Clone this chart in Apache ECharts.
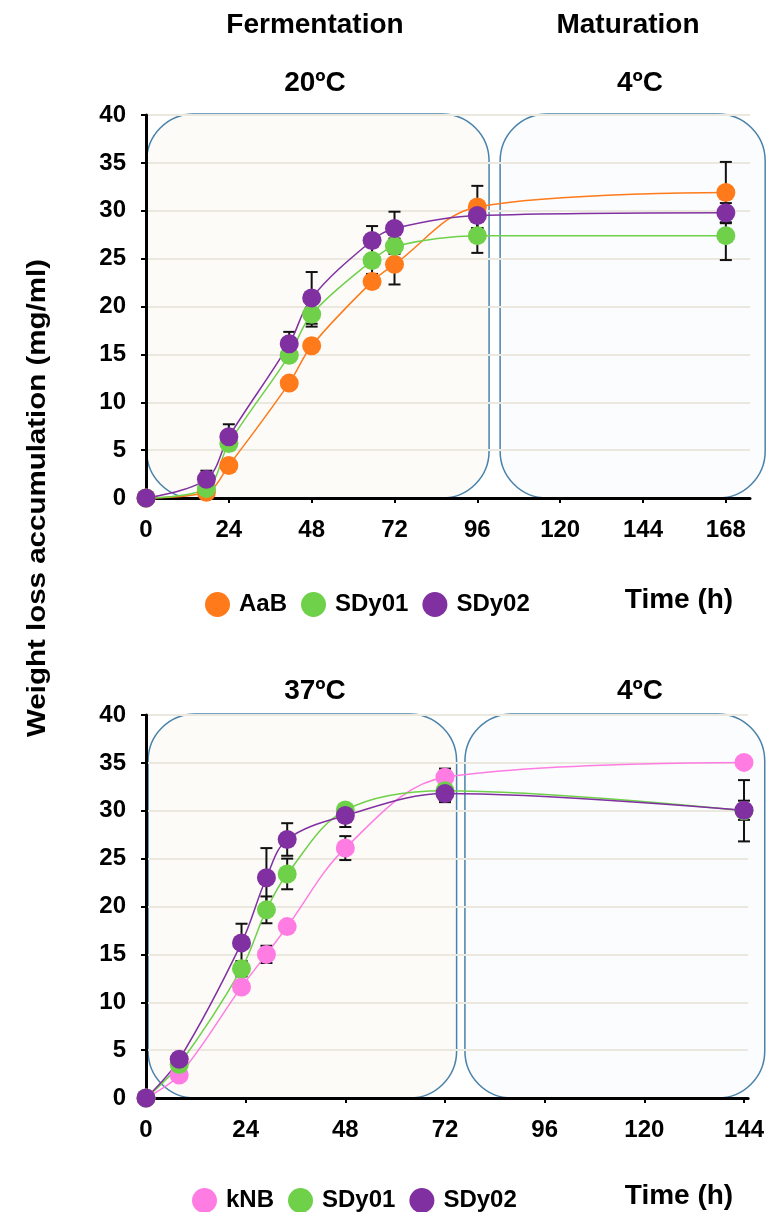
<!DOCTYPE html>
<html><head><meta charset="utf-8">
<script src="https://cdn.jsdelivr.net/npm/echarts@6/dist/echarts.min.js"></script>
<style>html,body{margin:0;padding:0;background:#fff}#c{width:767px;height:1212px}</style>
</head><body><div id="c"></div>
<script>
// ---------- data: top panel (20 ºC fermentation, 4 ºC maturation) ----------
const timesTop = [0, 17.5, 24, 41.5, 48, 65.5, 72, 96, 168];
const aabTop   = [0, 0.6, 3.4, 12.0, 15.9, 22.6, 24.4, 30.4, 31.9];
const sdy01Top = [0, 1.0, 5.7, 14.9, 19.2, 24.8, 26.3, 27.4, 27.4];
const sdy02Top = [0, 1.95, 6.4, 16.1, 20.9, 26.9, 28.15, 29.5, 29.8];
const aabTopErr   = [0, 0.3, 0.5, 0.5, 0.6, 0.6, 2.1, 2.2, 3.2];
const sdy01TopErr = [0, 0.3, 0.7, 0.5, 1.3, 1.4, 0.8, 1.8, 2.55];
const sdy02TopErr = [0, 0.9, 1.3, 1.25, 2.7, 1.5, 1.75, 1.3, 1.0];
const xTicksTop = [0, 24, 48, 72, 96, 120, 144, 168];

// ---------- data: bottom panel (37 ºC fermentation, 4 ºC maturation) ----------
const timesBottom = [0, 8, 23, 29, 34, 48, 72, 144];
const knbBottom   = [0, 2.4, 11.6, 15.0, 17.9, 26.1, 33.5, 35.05];
const sdy01Bottom = [0, 3.5, 13.5, 19.65, 23.4, 30.07, 32.1, 30.0];
const sdy02Bottom = [0, 4.04, 16.2, 23.0, 27.0, 29.5, 31.8, 30.05];
const knbBottomErr   = [0, 0.3, 0.5, 0.9, 0.5, 1.25, 0.9, 0.5];
const sdy01BottomErr = [0, 0.3, 0.8, 1.4, 1.6, 0.6, 0.5, 3.2];
const sdy02BottomErr = [0, 0.3, 2.0, 3.1, 1.7, 1.2, 0.9, 1.0];
const xTicksBottom = [0, 24, 48, 72, 96, 120, 144];

// phase boxes (hours)
const phasesTop = [[0.2, 99.4], [102.6, 179.4]];
const phasesBottom = [[0.5, 74.8], [76.8, 149]];

const C = {orange:'#ff7a1a', green:'#6fd04a', purple:'#8030a0', pink:'#ff7de3'};
const FONT = '"Liberation Sans", Arial, sans-serif';

function pairs(t, v){ return t.map((x,i)=>[x, v[i]]); }
function errs(t, v, e){ return t.map((x,i)=>[x, v[i]-e[i], v[i]+e[i]]).filter(d=>d[2]>d[1]); }

function boxSeries(gi, phases){
  return {
    type:'custom', xAxisIndex:gi, yAxisIndex:gi, z:-1, silent:true, clip:false,
    data: phases.map((p,i)=>[p[0], p[1], i]),
    encode:{x:[0,1]},
    renderItem:(params, api)=>{
      const a = api.coord([api.value(0), 40.1]);
      const b = api.coord([api.value(1), 0]);
      return {type:'rect', shape:{x:a[0], y:a[1], width:b[0]-a[0], height:b[1]-a[1], r:47},
        style:{fill: api.value(2)===0 ? '#fcfbf8' : '#fafcfd', stroke:'#4a82aa', lineWidth:1.5}};
    }
  };
}
function errSeries(gi, data){
  return {
    type:'custom', xAxisIndex:gi, yAxisIndex:gi, z:2, silent:true, clip:false,
    data, encode:{x:0, y:[1,2]},
    renderItem:(params, api)=>{
      const lo = api.coord([api.value(0), api.value(1)]);
      const hi = api.coord([api.value(0), api.value(2)]);
      const w = 6, st = {stroke:'#111', lineWidth:2};
      return {type:'group', children:[
        {type:'line', shape:{x1:lo[0], y1:lo[1], x2:hi[0], y2:hi[1]}, style:st},
        {type:'line', shape:{x1:lo[0]-w, y1:lo[1], x2:lo[0]+w, y2:lo[1]}, style:st},
        {type:'line', shape:{x1:hi[0]-w, y1:hi[1], x2:hi[0]+w, y2:hi[1]}, style:st}
      ]};
    }
  };
}
function lineSeries(gi, name, data, color){
  return {
    type:'line', name, xAxisIndex:gi, yAxisIndex:gi, z:3, data,
    smooth:0.35, symbol:'circle', symbolSize:19, showSymbol:true,
    lineStyle:{color, width:1.5}, itemStyle:{color},
    emphasis:{disabled:true}, clip:false
  };
}
function xAxis(gi, max, ticks){
  return {
    type:'value', gridIndex:gi, min:0, max,
    axisLine:{show:true, onZero:false, lineStyle:{color:'#000', width:3}},
    axisTick:{show:true, customValues:ticks, length:5, lineStyle:{color:'#000', width:2}},
    axisLabel:{customValues:ticks, margin:20, color:'#000', fontSize:24, fontWeight:'bold', fontFamily:FONT},
    splitLine:{show:false}
  };
}
function yAxis(gi){
  return {
    type:'value', gridIndex:gi, min:0, max:40, interval:5,
    axisLine:{show:true, lineStyle:{color:'#000', width:3}},
    axisTick:{show:true, length:5, lineStyle:{color:'#000', width:2}},
    axisLabel:{margin:20, color:'#000', fontSize:24, fontWeight:'bold', fontFamily:FONT},
    splitLine:{show:true, lineStyle:{color:'#ebe8df', width:2}}
  };
}
function txt(text, x, y, size){
  return {type:'text', x, y, silent:true,
    style:{text, font:'bold '+size+'px '+FONT, fill:'#000', align:'center', verticalAlign:'middle', textAlign:'center', textVerticalAlign:'middle'}};
}
const legendText = {color:'#000', fontSize:24, fontWeight:'bold', fontFamily:FONT, padding:[0,0,0,4]};

const option = {
  animation:false,
  backgroundColor:'#fff',
  grid:[
    {left:146, top:115, width:604, height:383},
    {left:146, top:715, width:604, height:383}
  ],
  xAxis:[xAxis(0, 175, xTicksTop), xAxis(1, 145, xTicksBottom)],
  yAxis:[yAxis(0), yAxis(1)],
  legend:[
    {data:['AaB','SDy01','SDy02'], left:200, top:587, icon:'circle', itemWidth:25, itemHeight:25, itemGap:14, selectedMode:false, textStyle:legendText},
    {data:['kNB','SDy01','SDy02'], left:187, top:1183, icon:'circle', itemWidth:25, itemHeight:25, itemGap:14, selectedMode:false, textStyle:legendText}
  ],
  graphic:[
    txt('Fermentation', 315, 25, 28),
    txt('Maturation', 628, 25, 28),
    txt('20ºC', 315, 83, 28),
    txt('4ºC', 640, 83, 28),
    txt('37ºC', 315, 691, 28),
    txt('4ºC', 640, 691, 28),
    txt('Time (h)', 679, 600, 28),
    txt('Time (h)', 679, 1196, 28),
    {type:'text', x:38, y:498, rotation:Math.PI/2, scaleX:1.18, silent:true,
      style:{text:'Weight loss accumulation (mg/ml)', font:'bold 25px '+FONT, fill:'#000', align:'center', verticalAlign:'middle', textAlign:'center', textVerticalAlign:'middle'}}
  ],
  series:[
    boxSeries(0, phasesTop),
    boxSeries(1, phasesBottom),
    errSeries(0, errs(timesTop, aabTop, aabTopErr)),
    errSeries(0, errs(timesTop, sdy01Top, sdy01TopErr)),
    errSeries(0, errs(timesTop, sdy02Top, sdy02TopErr)),
    errSeries(1, errs(timesBottom, knbBottom, knbBottomErr)),
    errSeries(1, errs(timesBottom, sdy01Bottom, sdy01BottomErr)),
    errSeries(1, errs(timesBottom, sdy02Bottom, sdy02BottomErr)),
    lineSeries(0, 'AaB', pairs(timesTop, aabTop), C.orange),
    lineSeries(0, 'SDy01', pairs(timesTop, sdy01Top), C.green),
    lineSeries(0, 'SDy02', pairs(timesTop, sdy02Top), C.purple),
    lineSeries(1, 'kNB', pairs(timesBottom, knbBottom), C.pink),
    lineSeries(1, 'SDy01', pairs(timesBottom, sdy01Bottom), C.green),
    lineSeries(1, 'SDy02', pairs(timesBottom, sdy02Bottom), C.purple)
  ]
};
const chart = echarts.init(document.getElementById('c'), null, {renderer:'canvas'});
chart.setOption(option);
</script></body></html>
